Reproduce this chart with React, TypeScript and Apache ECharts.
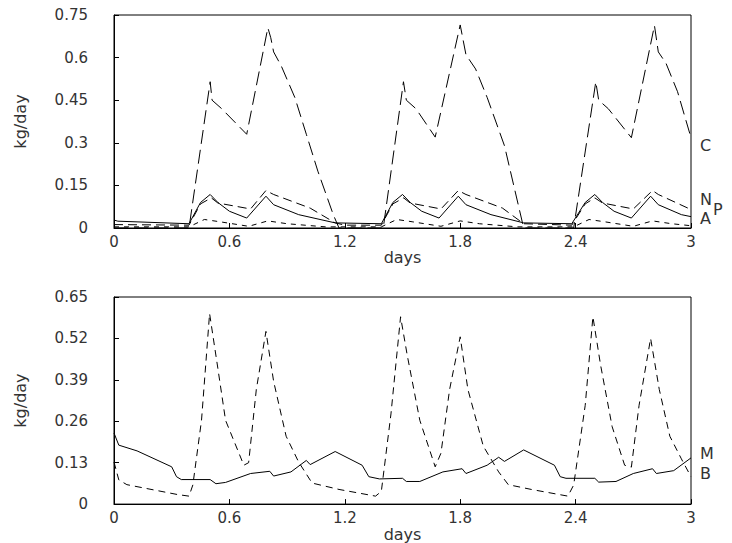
import React, { useEffect, useRef } from "react";
import * as echarts from "echarts";

// top panel (kg/day vs days)
const cData = [
  [0, 0], [0.39, 0], [0.5, 0.515], [0.51, 0.45], [0.56, 0.42], [0.69, 0.33], [0.8, 0.705], [0.815, 0.67],
  [0.83, 0.62], [0.87, 0.57], [0.94, 0.46], [1.0, 0.33], [1.06, 0.2], [1.14, 0.047], [1.17, 0], [1.4, 0],
  [1.505, 0.515], [1.52, 0.45], [1.57, 0.42], [1.67, 0.32], [1.8, 0.715], [1.83, 0.61], [1.88, 0.56],
  [1.94, 0.46], [2.03, 0.29], [2.13, 0], [2.39, 0], [2.505, 0.515], [2.52, 0.45], [2.57, 0.42],
  [2.69, 0.318], [2.81, 0.713], [2.83, 0.62], [2.87, 0.58], [2.93, 0.48], [3.0, 0.318],
];
const nData = [
  [0, 0.012], [0.39, 0.01], [0.45, 0.085], [0.506, 0.106], [0.54, 0.088], [0.71, 0.067], [0.79, 0.132],
  [0.83, 0.118], [1.02, 0.07], [1.15, 0.018], [1.2, 0.01], [1.39, 0.01], [1.45, 0.085], [1.506, 0.106],
  [1.54, 0.088], [1.7, 0.067], [1.79, 0.132], [1.83, 0.118], [2.02, 0.07], [2.13, 0.015], [2.38, 0.01],
  [2.45, 0.085], [2.5, 0.106], [2.54, 0.088], [2.7, 0.067], [2.8, 0.132], [2.83, 0.118], [3.0, 0.065],
];
const pData = [
  [0, 0.028], [0.02, 0.024], [0.39, 0.015], [0.45, 0.09], [0.5, 0.118], [0.54, 0.09], [0.6, 0.059],
  [0.69, 0.035], [0.79, 0.112], [0.83, 0.082], [0.96, 0.047], [1.15, 0.018], [1.39, 0.015], [1.45, 0.09],
  [1.5, 0.118], [1.54, 0.09], [1.6, 0.059], [1.69, 0.035], [1.79, 0.112], [1.83, 0.082], [1.96, 0.047],
  [2.13, 0.018], [2.38, 0.015], [2.45, 0.09], [2.5, 0.118], [2.54, 0.09], [2.6, 0.059], [2.69, 0.035],
  [2.79, 0.112], [2.83, 0.082], [2.95, 0.047], [3.0, 0.04],
];
const aData = [
  [0, 0.004], [0.39, 0.004], [0.47, 0.03], [0.55, 0.022], [0.7, 0.006], [0.8, 0.025], [0.9, 0.015],
  [1.1, 0.004], [1.39, 0.004], [1.47, 0.03], [1.55, 0.022], [1.7, 0.006], [1.8, 0.025], [1.9, 0.015],
  [2.1, 0.004], [2.39, 0.004], [2.47, 0.03], [2.55, 0.022], [2.7, 0.006], [2.8, 0.025], [2.9, 0.015],
  [3.0, 0.008],
];

// bottom panel
const mData = [
  [0, 0.223], [0.025, 0.185], [0.12, 0.167], [0.3, 0.117], [0.325, 0.086], [0.35, 0.077], [0.5, 0.077],
  [0.53, 0.064], [0.58, 0.068], [0.71, 0.096], [0.81, 0.103], [0.83, 0.088], [0.92, 0.101], [1.0, 0.137],
  [1.02, 0.124], [1.15, 0.165], [1.29, 0.122], [1.325, 0.086], [1.38, 0.079], [1.5, 0.081], [1.52, 0.071],
  [1.59, 0.071], [1.71, 0.101], [1.81, 0.111], [1.83, 0.096], [1.94, 0.122], [2.0, 0.147], [2.03, 0.134],
  [2.13, 0.17], [2.29, 0.122], [2.32, 0.086], [2.35, 0.081], [2.5, 0.081], [2.52, 0.069], [2.61, 0.071],
  [2.7, 0.096], [2.8, 0.111], [2.82, 0.096], [2.91, 0.105], [3.0, 0.145],
];
const bData = [
  [0, 0.132], [0.025, 0.076], [0.067, 0.061], [0.33, 0.03], [0.39, 0.025], [0.41, 0.06], [0.455, 0.263],
  [0.497, 0.598], [0.54, 0.426], [0.58, 0.263], [0.675, 0.122], [0.7, 0.13], [0.74, 0.36], [0.79, 0.542],
  [0.83, 0.385], [0.895, 0.213], [0.96, 0.132], [1.03, 0.066], [1.17, 0.046], [1.36, 0.025], [1.39, 0.04],
  [1.44, 0.283], [1.49, 0.588], [1.525, 0.466], [1.59, 0.263], [1.67, 0.117], [1.7, 0.16], [1.745, 0.36],
  [1.8, 0.525], [1.84, 0.36], [1.92, 0.182], [2.0, 0.101], [2.05, 0.061], [2.17, 0.046], [2.36, 0.025],
  [2.39, 0.06], [2.45, 0.31], [2.49, 0.588], [2.53, 0.436], [2.59, 0.243], [2.655, 0.122], [2.69, 0.116],
  [2.73, 0.31], [2.79, 0.52], [2.835, 0.36], [2.89, 0.213], [2.95, 0.142], [3.0, 0.086],
];

const font = "DejaVu Sans";
const ink = "#000";

const xAxisBase = (gridIndex: number) => ({
  type: "value",
  gridIndex,
  min: 0,
  max: 3,
  interval: 0.6,
  name: "days",
  nameLocation: "middle",
  nameGap: 11,
  nameTextStyle: { fontFamily: font, fontSize: 16, color: "#333" },
  axisLine: { lineStyle: { color: ink } },
  axisTick: { inside: true, length: 5, lineStyle: { color: ink } },
  axisLabel: { fontFamily: font, fontSize: 15, color: "#333", margin: 6 },
  splitLine: { show: false },
});

const yAxisBase = (gridIndex: number, max: number, interval: number) => ({
  type: "value",
  gridIndex,
  min: 0,
  max,
  interval,
  name: "kg/day",
  nameLocation: "middle",
  nameGap: 86,
  nameTextStyle: { fontFamily: font, fontSize: 16, color: "#333" },
  axisLine: { lineStyle: { color: ink } },
  axisTick: { inside: true, length: 5, lineStyle: { color: ink } },
  axisLabel: { fontFamily: font, fontSize: 15, color: "#333", margin: 26 },
  splitLine: { show: false },
});

const line = (data: number[][], x: number, dash: number[] | "solid") => ({
  type: "line",
  data,
  xAxisIndex: x,
  yAxisIndex: x,
  showSymbol: false,
  lineStyle: { color: ink, width: 1, type: dash },
});

const label = (text: string, left: number, top: number) => ({
  type: "text",
  left,
  top,
  style: { text, fontFamily: font, fontSize: 16, fill: "#333" },
});

const App: React.FC = () => {
  const chartRef = useRef<HTMLDivElement>(null);

  useEffect(() => {
    if (!chartRef.current) return;
    const chart = echarts.init(chartRef.current, null, { renderer: "svg" });
    chart.setOption({
      animation: false,
      backgroundColor: "#fff",
      grid: [
        { left: 114, right: 41, top: 15, height: 213, show: true, borderColor: ink, borderWidth: 1 },
        { left: 114, right: 41, top: 297, height: 212, show: true, borderColor: ink, borderWidth: 1 },
      ],
      xAxis: [xAxisBase(0), xAxisBase(1)],
      yAxis: [yAxisBase(0, 0.75, 0.15), yAxisBase(1, 0.65, 0.13)],
      series: [
        line(cData, 0, [14, 6]),
        line(nData, 0, [9, 5]),
        line(pData, 0, "solid"),
        line(aData, 0, [5, 5]),
        line(mData, 1, "solid"),
        line(bData, 1, [7, 5]),
      ],
      graphic: [
        label("C", 700, 137),
        label("N", 700, 191),
        label("A", 700, 210),
        label("P", 713, 201),
        label("M", 700, 445),
        label("B", 700, 465),
      ],
    });
    return () => chart.dispose();
  }, []);

  return <div ref={chartRef} style={{ position: "fixed", left: 0, top: 0, width: 732, height: 543 }} />;
};

export default App;
